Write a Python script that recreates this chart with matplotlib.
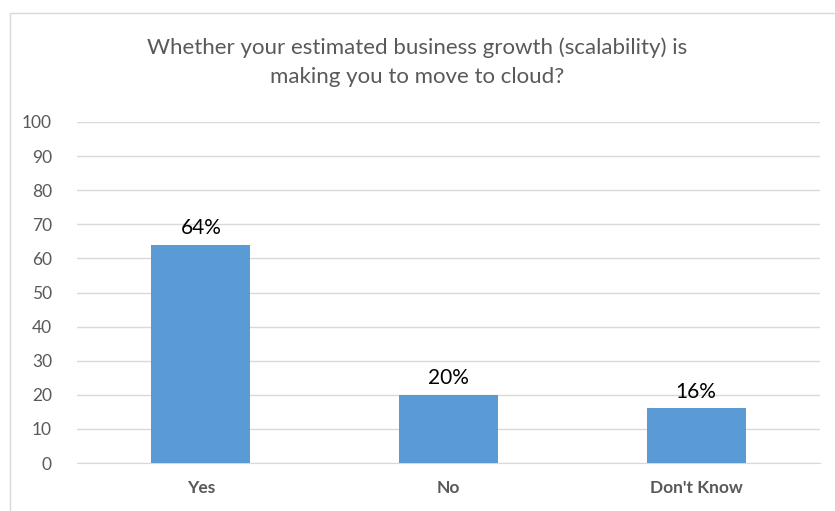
import matplotlib.pyplot as plt
from matplotlib.patches import Rectangle

# data
categories = ["Yes", "No", "Don't Know"]
values = [64, 20, 16]
value_labels = ["64%", "20%", "16%"]
y_ticks = [0, 10, 20, 30, 40, 50, 60, 70, 80, 90, 100]

plt.rcParams['font.family'] = ['Lato', 'DejaVu Sans']

fig = plt.figure(figsize=(8.35, 5.11), dpi=100)
# chart border (excel chart area)
fig.patches.append(Rectangle((10 / 835, -0.01), 1.0, 1 - 13 / 511 + 0.01,
                             transform=fig.transFigure, fill=False,
                             edgecolor='#D9D9D9', linewidth=1.0))

ax = fig.add_axes([77 / 835, 1 - 463 / 511, (820 - 77) / 835, (463 - 122) / 511])
bars = ax.bar(categories, values, width=0.4, color='#5B9BD5', zorder=3)

for b, lab in zip(bars, value_labels):
    ax.text(b.get_x() + b.get_width() / 2, b.get_height() + 2, lab,
            ha='center', va='bottom', fontsize=15, color='#000000')

ax.set_ylim(0, 100)
ax.set_xlim(-0.5, 2.5)
ax.set_yticks(y_ticks)
ax.yaxis.grid(True, color='#D9D9D9', linewidth=1.0, zorder=0)
for s in ['top', 'right', 'left']:
    ax.spines[s].set_visible(False)
ax.spines['bottom'].set_color('#D9D9D9')
ax.tick_params(axis='both', length=0, colors='#595959', labelsize=12.5)
ax.tick_params(axis='x', pad=12)
ax.tick_params(axis='y', pad=18)
for t in ax.get_xticklabels():
    t.set_fontweight('bold')

fig.text(0.5, 1 - 62 / 511, "Whether your estimated business growth (scalability) is\nmaking you to move to cloud?",
         ha='center', va='center', fontsize=16, color='#595959', linespacing=1.55)

fig.savefig("out.png", dpi=100)
